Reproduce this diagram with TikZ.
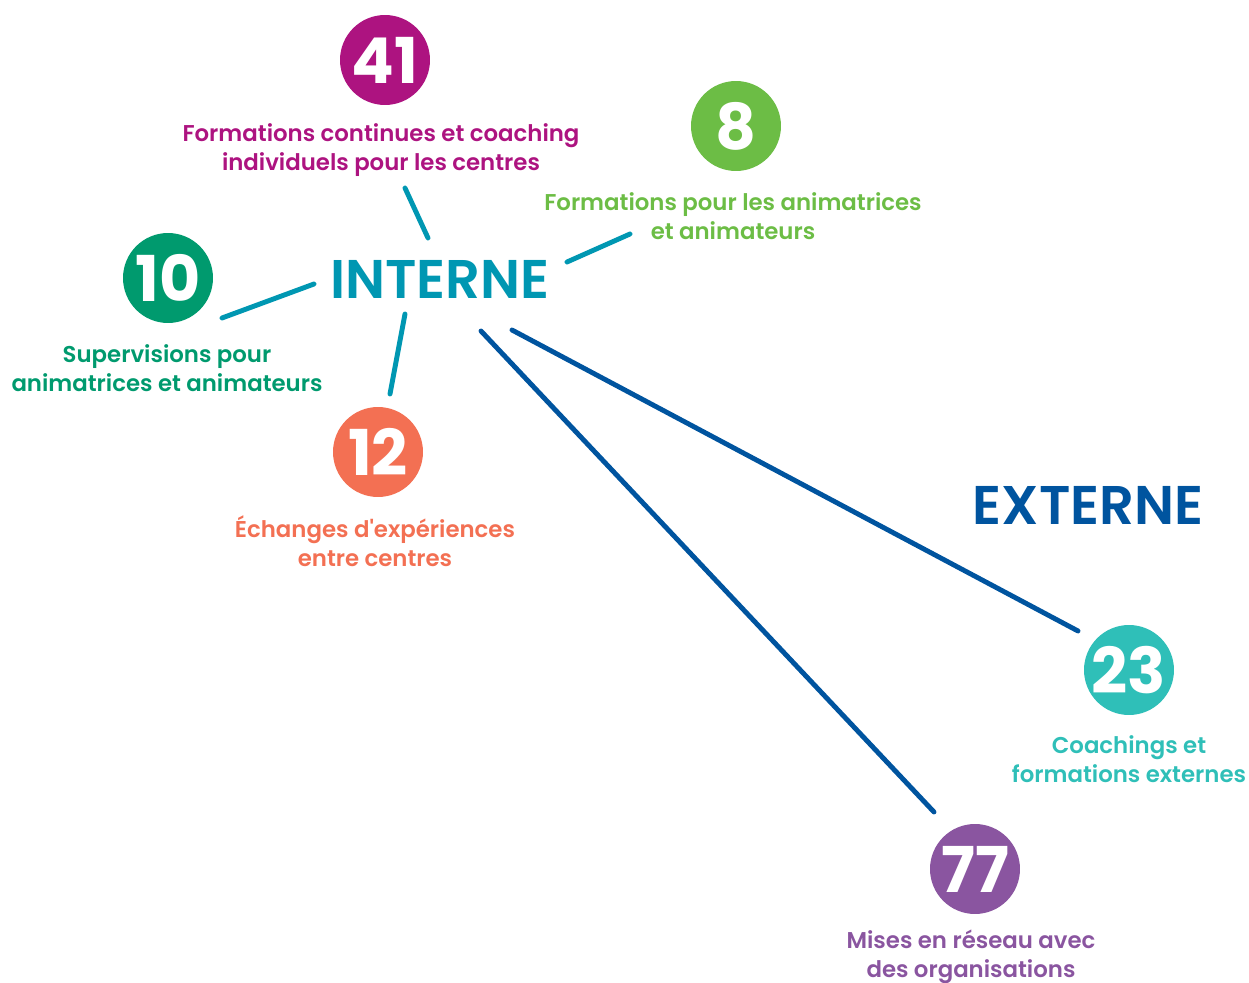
\documentclass[tikz,border=0pt]{standalone}
\usepackage{fontspec}
\setmainfont{Poppins}[BoldFont={Poppins SemiBold}, Ligatures=TeXOff]
\newfontfamily\chiffrefont{Poppins Bold}
\usepackage{xcolor}
\usepackage{tikz}
\usetikzlibrary{calc, positioning}

\definecolor{cformc}{HTML}{AD1380}
\definecolor{cforma}{HTML}{6CBD45}
\definecolor{csuper}{HTML}{009A6E}
\definecolor{cechan}{HTML}{F37053}
\definecolor{ccoach}{HTML}{2FBFB8}
\definecolor{creseau}{HTML}{8A55A0}
\definecolor{cinterne}{HTML}{0097B2}
\definecolor{cexterne}{HTML}{00549F}

\begin{document}
\begin{tikzpicture}
			[x = 0.02cm, y = -0.02cm,
			 chiffre/.style = {circle, minimum size = 1.8cm, inner sep = 0pt, fill = #1, text = white, font = \fontsize{36}{36}\selectfont\chiffrefont},
			 legende/.style = {align = center, text = #1, inner sep = 0pt, font = \fontsize{13}{16.4}\selectfont\bfseries},
			 titre/.style = {text = #1, inner sep = 0pt, font = \fontsize{31}{31}\selectfont\bfseries},
			 lien/.style = {line width = 2.8pt, line cap = round, draw = #1}]
			\useasboundingbox (0,0) rectangle (1249,983);
			% titres
			\node[titre = cinterne] (interne) at (440,279) {INTERNE};
			\node[titre = cexterne] (externe) at (1088,505) {EXTERNE};
			% chiffres
			\node[chiffre = cformc] (n41) at (385,60) {41};
			\node[chiffre = cforma] (n8) at (736,126) {8};
			\node[chiffre = csuper] (n10) at (168,278) {10};
			\node[chiffre = cechan] (n12) at (378,452) {12};
			\node[chiffre = ccoach] (n23) at (1129,670) {23};
			\node[chiffre = creseau] (n77) at (975,869) {77};
			% legendes
			\node[legende = cformc] (t41) at (381,150) {Formations continues et coaching\\individuels pour les centres};
			\node[legende = cforma] (t8) at (733,216) {Formations pour les animatrices\\et animateurs};
			\node[legende = csuper] (t10) at (167,368) {Supervisions pour\\animatrices et animateurs};
			\node[legende = cechan] (t12) at (375,541) {Échanges d'expériences\\entre centres};
			\node[legende = ccoach] (t23) at (1129,759) {Coachings et\\formations externes};
			\node[legende = creseau] (t77) at (971,957) {Mises en réseau avec\\des organisations};
			% liens
			\coordinate (a41) at (428,238);
			\coordinate (b41) at (405,188);
			\coordinate (a8) at (567,262);
			\coordinate (b8) at (630,234);
			\coordinate (a10) at (314,284);
			\coordinate (b10) at (222,318);
			\coordinate (a12) at (405,314);
			\coordinate (b12) at (390,394);
			\coordinate (a23) at (512,330);
			\coordinate (b23) at (1078,631);
			\coordinate (a77) at (481,331);
			\coordinate (b77) at (934,812);
			\begin{scope}[lien = cinterne]
				\draw (a41) -- (b41);
				\draw (a8) -- (b8);
				\draw (a10) -- (b10);
				\draw (a12) -- (b12);
			\end{scope}
			\begin{scope}[lien = cexterne]
				\draw (a23) -- (b23);
				\draw (a77) -- (b77);
			\end{scope}
		\end{tikzpicture}
\end{document}
